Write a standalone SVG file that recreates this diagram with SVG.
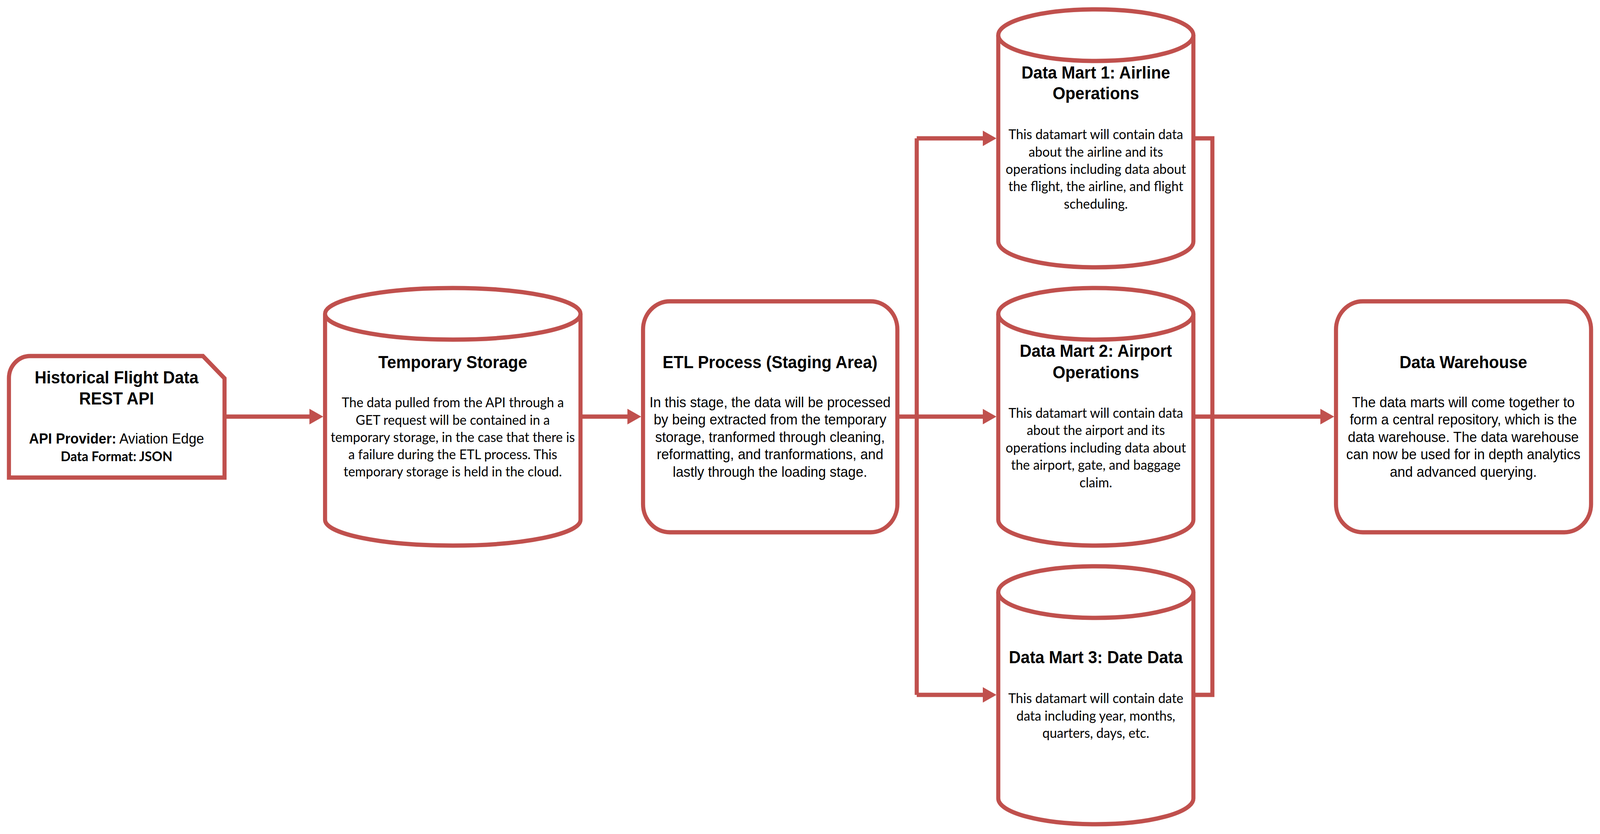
<svg xmlns="http://www.w3.org/2000/svg" width="4297" height="2134" viewBox="0 0 4297 2134">
<style>
.shape{fill:#ffffff;stroke:#C0504D;stroke-width:11;stroke-linejoin:miter}
.conn{fill:none;stroke:#C0504D;stroke-width:11;stroke-linejoin:miter}
.title{font-family:"Liberation Sans",Arial,sans-serif;font-weight:bold;font-size:44px;fill:#000;text-anchor:middle}
.ar{font-family:"Liberation Sans",Arial,sans-serif;font-size:37px;fill:#000;text-anchor:middle}
.cal{font-family:Lato,"Open Sans",sans-serif;font-size:35px;fill:#000;text-anchor:middle}
.calb{font-family:Lato,"Open Sans",sans-serif;font-weight:bold;font-size:35px;fill:#000;text-anchor:middle}
</style>
<defs>
<marker id="arrow" viewBox="0 -20 37 40" markerWidth="37" markerHeight="40" refX="1" refY="0" orient="auto" markerUnits="userSpaceOnUse">
<path d="M0,-20 L37,0 L0,20 Z" fill="#C0504D"/>
</marker>
</defs>
<rect x="0" y="0" width="4297" height="2134" fill="#ffffff"/>
<g id="diagram" transform="scale(0.95322 1)">

<g id="connectors">
<path class="conn" d="M603,1066 H832" marker-end="url(#arrow)"/>
<path class="conn" d="M1559,1066 H1686" marker-end="url(#arrow)"/>
<path class="conn" d="M2410,1066 H2462"/>
<path class="conn" d="M2462,1066 V354"/>
<path class="conn" d="M2462,1066 V1778"/>
<path class="conn" d="M2462,354 H2640" marker-end="url(#arrow)"/>
<path class="conn" d="M2462,1066 H2640" marker-end="url(#arrow)"/>
<path class="conn" d="M2462,1778 H2640" marker-end="url(#arrow)"/>
<path class="conn" d="M3205,354 H3256 V1778 H3205"/>
<path class="conn" d="M3205,1066 H3547" marker-end="url(#arrow)"/>
</g>

<g id="node-api">
<path class="shape" d="M24,1222 V968 A57,57 0 0 1 81,911 H545 L603,968 V1222 Z"/>
<text class="title" x="313" y="981">Historical Flight Data</text>
<text class="title" x="313" y="1035">REST API</text>
<text class="ar" x="313" y="1135"><tspan font-weight="bold">API Provider:</tspan> Aviation Edge</text>
<text class="calb" x="313" y="1180">Data Format: JSON</text>
</g>

<g id="node-temp-storage">
<path class="shape" d="M873,803 V1330 A343,66 0 0 0 1559,1330 V803"/>
<ellipse class="shape" cx="1216" cy="803" rx="343" ry="66"/>
<text class="title" x="1216" y="942">Temporary Storage</text>
<text class="cal" x="1216" y="1042">The data pulled from the API through a</text>
<text class="cal" x="1216" y="1087">GET request will be contained in a</text>
<text class="cal" x="1216" y="1131">temporary storage, in the case that there is</text>
<text class="cal" x="1216" y="1175">a failure during the ETL process. This</text>
<text class="cal" x="1216" y="1219">temporary storage is held in the cloud.</text>
</g>

<g id="node-etl">
<rect class="shape" x="1727" y="771" width="683" height="591" rx="72" ry="72"/>
<text class="title" x="2068" y="942">ETL Process (Staging Area)</text>
<text class="ar" x="2068" y="1042">In this stage, the data will be processed</text>
<text class="ar" x="2068" y="1086">by being extracted from the temporary</text>
<text class="ar" x="2068" y="1131">storage, tranformed through cleaning,</text>
<text class="ar" x="2068" y="1175">reformatting, and tranformations, and</text>
<text class="ar" x="2068" y="1220">lastly through the loading stage.</text>
</g>

<g id="node-datamart-1">
<path class="shape" d="M2681,90 V618 A262,66 0 0 0 3205,618 V90"/>
<ellipse class="shape" cx="2943" cy="90" rx="262" ry="66"/>
<text class="title" x="2943" y="201">Data Mart 1: Airline</text>
<text class="title" x="2943" y="254">Operations</text>
<text class="cal" x="2943" y="356">This datamart will contain data</text>
<text class="cal" x="2943" y="401">about the airline and its</text>
<text class="cal" x="2943" y="445">operations including data about</text>
<text class="cal" x="2943" y="489">the flight, the airline, and flight</text>
<text class="cal" x="2943" y="534">scheduling.</text>
</g>

<g id="node-datamart-2">
<path class="shape" d="M2681,803 V1330 A262,66 0 0 0 3205,1330 V803"/>
<ellipse class="shape" cx="2943" cy="803" rx="262" ry="66"/>
<text class="title" x="2943" y="913">Data Mart 2: Airport</text>
<text class="title" x="2943" y="968">Operations</text>
<text class="cal" x="2943" y="1069">This datamart will contain data</text>
<text class="cal" x="2943" y="1113">about the airport and its</text>
<text class="cal" x="2943" y="1158">operations including data about</text>
<text class="cal" x="2943" y="1202">the airport, gate, and baggage</text>
<text class="cal" x="2943" y="1247">claim.</text>
</g>

<g id="node-datamart-3">
<path class="shape" d="M2681,1515 V2043 A262,66 0 0 0 3205,2043 V1515"/>
<ellipse class="shape" cx="2943" cy="1515" rx="262" ry="66"/>
<text class="title" x="2943" y="1697">Data Mart 3: Date Data</text>
<text class="cal" x="2943" y="1799">This datamart will contain date</text>
<text class="cal" x="2943" y="1844">data including year, months,</text>
<text class="cal" x="2943" y="1888">quarters, days, etc.</text>
</g>

<g id="node-warehouse">
<rect class="shape" x="3588" y="771" width="685" height="591" rx="72" ry="72"/>
<text class="title" x="3930" y="942">Data Warehouse</text>
<text class="ar" x="3930" y="1042">The data marts will come together to</text>
<text class="ar" x="3930" y="1086">form a central repository, which is the</text>
<text class="ar" x="3930" y="1131">data warehouse. The data warehouse</text>
<text class="ar" x="3930" y="1175">can now be used for in depth analytics</text>
<text class="ar" x="3930" y="1220">and advanced querying.</text>
</g>
</g>
</svg>
